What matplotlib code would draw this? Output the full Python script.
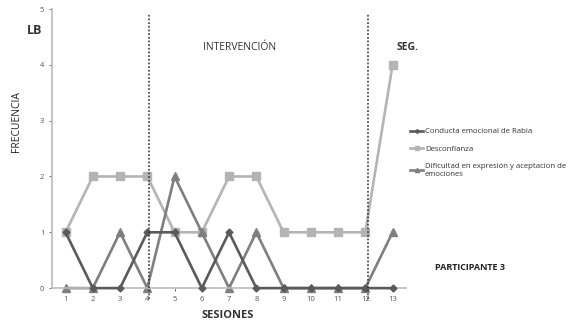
import numpy as np
import matplotlib.pyplot as plt

plt.rcParams['font.family'] = ['Open Sans', 'DejaVu Sans']

sesiones = list(range(1, 14))
rabia = [1, 0, 0, 1, 1, 0, 1, 0, 0, 0, 0, 0, 0]
desconfianza = [1, 2, 2, 2, 1, 1, 2, 2, 1, 1, 1, 1, 4]
dificultad = [0, 0, 1, 0, 2, 1, 0, 1, 0, 0, 0, 0, 1]
fases = [4.08, 12.08]

fig = plt.figure(figsize=(5.77, 3.23), dpi=100)
ax = fig.add_axes([0.090, 0.108, 0.614, 0.864])

ax.plot(sesiones, rabia, color='#5a5a5a', lw=1.9, marker='D', ms=3.5,
        label='Conducta emocional de Rabia', zorder=3, clip_on=False)
ax.plot(sesiones, desconfianza, color='#b4b4b4', lw=1.9, marker='s', ms=5.5,
        label='Desconfianza', zorder=2, clip_on=False)
ax.plot(sesiones, dificultad, color='#7f7f7f', lw=1.9, marker='^', ms=5.5,
        label='Dificultad en expresión y aceptacion de\nemociones', zorder=2,
        clip_on=False)

for xv in fases:
    ax.plot([xv, xv], [-0.2, 4.92], color='#333333', lw=1.1, ls=(0, (1.2, 1.2)),
            clip_on=False, zorder=4)

ax.set_xlim(0.5, 13.5)
ax.set_ylim(0, 5)
ax.set_xticks(sesiones)
ax.set_yticks(range(6))
ax.tick_params(labelsize=5.5, colors='#555555', length=2, width=0.6)
for s in ['top', 'right']:
    ax.spines[s].set_visible(False)
for s in ['left', 'bottom']:
    ax.spines[s].set_color('#bbbbbb')
    ax.spines[s].set_linewidth(1.2)

fig.text(27 / 577, 1 - 31 / 323, 'LB', fontsize=9, fontweight='bold',
         color='#333333', va='center')
fig.text(240 / 577, 1 - 47 / 323, 'INTERVENCIÓN', fontsize=7.5,
         color='#333333', ha='center', va='center')
fig.text(397 / 577, 1 - 47 / 323, 'SEG.', fontsize=7.5, fontweight='bold',
         color='#333333', va='center')
fig.text(17 / 577, 1 - 122 / 323, 'FRECUENCIA', fontsize=7.5, rotation=90,
         color='#222222', ha='center', va='center')
fig.text(228 / 577, 1 - 316 / 323, 'SESIONES', fontsize=8, fontweight='bold',
         color='#333333', ha='center', va='center')
fig.text(435 / 577, 1 - 268 / 323, 'PARTICIPANTE 3', fontsize=6.5,
         fontweight='bold', color='#222222', va='center')

fig.legend(loc='upper left', bbox_to_anchor=(403 / 577, 1 - 121 / 323),
           frameon=False, fontsize=5.6, handlelength=1.7, handletextpad=0.2,
           labelspacing=1.3, markerscale=0.55, labelcolor='#333333')

fig.savefig('out.png', dpi=100)
